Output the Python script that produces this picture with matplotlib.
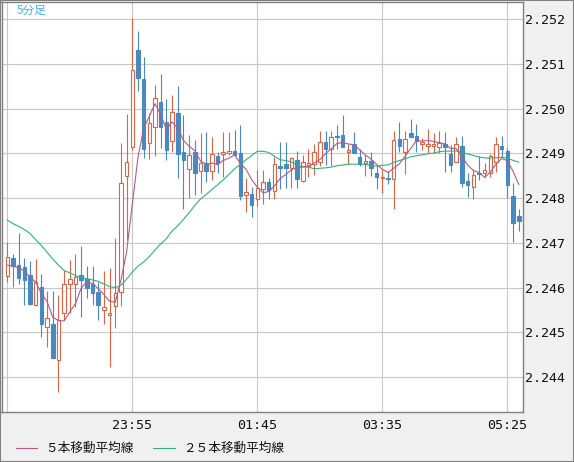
import numpy as np
import pandas as pd
import matplotlib
matplotlib.use('Agg')
import matplotlib.pyplot as plt
from matplotlib.patches import Rectangle
from matplotlib.lines import Line2D

# 5分足 OHLC (22:05 - 05:35)
opens = [
    2.24626, 2.24667, 2.24650, 2.24645, 2.24628, 2.24561, 2.24602, 2.24511, 2.24518, 2.24437,
    2.24542, 2.24609, 2.24609, 2.24628, 2.24619, 2.24608, 2.24589, 2.24549, 2.24538, 2.24558,
    2.24590, 2.24850, 2.24914, 2.25131, 2.25066, 2.24923, 2.24960, 2.25015, 2.24970, 2.24928,
    2.24990, 2.24903, 2.24866, 2.24903, 2.24861, 2.24879, 2.24861, 2.24894, 2.24898, 2.24900,
    2.24905, 2.24900, 2.24807, 2.24809, 2.24797, 2.24820, 2.24835, 2.24817, 2.24873, 2.24876,
    2.24867, 2.24885, 2.24838, 2.24873, 2.24876, 2.24880, 2.24926, 2.24911, 2.24940, 2.24942,
    2.24904, 2.24920, 2.24892, 2.24878, 2.24882, 2.24857, 2.24844, 2.24844, 2.24842, 2.24932,
    2.24904, 2.24946, 2.24940, 2.24922, 2.24917, 2.24916, 2.24914, 2.24922, 2.24899, 2.24881,
    2.24917, 2.24839, 2.24824, 2.24857, 2.24857, 2.24856, 2.24881, 2.24917, 2.24905, 2.24805,
    2.24760]
highs = [
    2.24703, 2.24675, 2.24721, 2.24667, 2.24659, 2.24665, 2.24630, 2.24592, 2.24592, 2.24583,
    2.24639, 2.24662, 2.24674, 2.24693, 2.24649, 2.24649, 2.24613, 2.24637, 2.24644, 2.24710,
    2.24924, 2.24988, 2.25202, 2.25174, 2.25116, 2.24990, 2.25053, 2.25078, 2.25022, 2.25030,
    2.25051, 2.24985, 2.24941, 2.24930, 2.24945, 2.24949, 2.24937, 2.24904, 2.24949, 2.24949,
    2.24952, 2.24964, 2.24844, 2.24826, 2.24863, 2.24863, 2.24844, 2.24891, 2.24926, 2.24926,
    2.24893, 2.24905, 2.24896, 2.24909, 2.24921, 2.24950, 2.24950, 2.24950, 2.24964, 2.24986,
    2.24922, 2.24947, 2.24910, 2.24897, 2.24904, 2.24874, 2.24863, 2.24861, 2.24950, 2.24970,
    2.24951, 2.24976, 2.24965, 2.24934, 2.24955, 2.24945, 2.24951, 2.24947, 2.24919, 2.24937,
    2.24939, 2.24857, 2.24865, 2.24894, 2.24878, 2.24898, 2.24937, 2.24939, 2.24913, 2.24833,
    2.24776]
lows = [
    2.24613, 2.24602, 2.24609, 2.24562, 2.24561, 2.24559, 2.24490, 2.24467, 2.24442, 2.24367,
    2.24527, 2.24542, 2.24556, 2.24535, 2.24577, 2.24561, 2.24527, 2.24518, 2.24423, 2.24509,
    2.24559, 2.24706, 2.24908, 2.25040, 2.24889, 2.24888, 2.24895, 2.24912, 2.24886, 2.24904,
    2.24846, 2.24775, 2.24801, 2.24807, 2.24811, 2.24836, 2.24841, 2.24856, 2.24848, 2.24896,
    2.24894, 2.24796, 2.24770, 2.24758, 2.24782, 2.24787, 2.24798, 2.24798, 2.24820, 2.24822,
    2.24822, 2.24822, 2.24835, 2.24848, 2.24852, 2.24872, 2.24874, 2.24872, 2.24910, 2.24914,
    2.24876, 2.24902, 2.24872, 2.24850, 2.24849, 2.24820, 2.24812, 2.24831, 2.24775, 2.24904,
    2.24854, 2.24936, 2.24904, 2.24908, 2.24900, 2.24902, 2.24900, 2.24859, 2.24859, 2.24881,
    2.24826, 2.24803, 2.24797, 2.24841, 2.24848, 2.24847, 2.24859, 2.24891, 2.24800, 2.24703,
    2.24727]
closes = [
    2.24668, 2.24648, 2.24621, 2.24618, 2.24563, 2.24612, 2.24519, 2.24531, 2.24443, 2.24527,
    2.24607, 2.24619, 2.24624, 2.24618, 2.24598, 2.24587, 2.24562, 2.24556, 2.24544, 2.24587,
    2.24834, 2.24881, 2.25087, 2.25069, 2.24911, 2.24967, 2.25023, 2.24960, 2.24908, 2.24993,
    2.24899, 2.24885, 2.24896, 2.24857, 2.24879, 2.24861, 2.24899, 2.24879, 2.24903, 2.24905,
    2.24897, 2.24805, 2.24814, 2.24785, 2.24822, 2.24835, 2.24818, 2.24876, 2.24868, 2.24867,
    2.24889, 2.24843, 2.24881, 2.24878, 2.24903, 2.24925, 2.24910, 2.24936, 2.24937, 2.24915,
    2.24908, 2.24902, 2.24877, 2.24882, 2.24868, 2.24848, 2.24847, 2.24842, 2.24930, 2.24917,
    2.24932, 2.24936, 2.24928, 2.24926, 2.24922, 2.24922, 2.24923, 2.24914, 2.24875, 2.24920,
    2.24834, 2.24829, 2.24851, 2.24853, 2.24864, 2.24894, 2.24921, 2.24911, 2.24829, 2.24744,
    2.24749]

# 移動平均線の先頭 (表示範囲より前の足が必要な部分、チャートから読み取り)
ma5_head = [2.24650, 2.24648, 2.24644, 2.24637]
ma25_head = [2.24751, 2.24743, 2.24737, 2.24730, 2.24721, 2.24707, 2.24694, 2.24679,
             2.24664, 2.24650, 2.24638, 2.24633, 2.24627, 2.24622, 2.24620, 2.24617,
             2.24614, 2.24608, 2.24602, 2.24600, 2.24605, 2.24619, 2.24635, 2.24648]

price_ticks = [2.244, 2.245, 2.246, 2.247, 2.248, 2.249, 2.250, 2.251, 2.252]
tick_pos = [0, 22, 44, 66, 88]
legend_labels = ['５本移動平均線', '２５本移動平均線']

RED = '#dc6446'
BLUE = '#4a88c0'
PURPLE = '#b45a8c'
GREEN = '#2db47a'

df = pd.DataFrame({'open': opens, 'high': highs, 'low': lows, 'close': closes},
                  index=pd.date_range('2024-01-01 22:05', periods=len(closes), freq='5min'))
ma5 = df['close'].rolling(5).mean()
ma5.iloc[:len(ma5_head)] = ma5_head
ma25 = df['close'].rolling(25).mean()
ma25.iloc[:len(ma25_head)] = ma25_head

W, H = 574, 462
fig = plt.figure(figsize=(W / 100, H / 100), dpi=100, facecolor='#f0f0f0')
ax = fig.add_axes([1.5 / W, 50 / H, 521.8 / W, 410.5 / H])
ax.set_facecolor('white')

x = np.arange(len(df))
up = df['close'].values >= df['open'].values
wick_cols = [RED if u else BLUE for u in up]
ax.vlines(x, df['low'], df['high'], colors=wick_cols, linewidth=0.8, zorder=2)

bw = 0.62
for i, (o, c, u) in enumerate(zip(df['open'], df['close'], up)):
    ax.add_patch(Rectangle((i - bw / 2, min(o, c)), bw, abs(c - o),
                           facecolor='white' if u else BLUE,
                           edgecolor=RED if u else BLUE, linewidth=0.8, zorder=3))

ax.plot(x, ma25.values, color=GREEN, linewidth=0.8, zorder=4)
ax.plot(x, ma5.values, color=PURPLE, linewidth=0.8, zorder=4)

ax.set_xlim(-1.02, 90.8)
ax.set_ylim(2.243217, 2.252398)
ax.set_xticks(tick_pos)
ax.set_xticklabels(['' if k == 0 else df.index[k].strftime('%H:%M') for k in tick_pos])
ax.set_yticks(price_ticks)
ax.set_yticklabels([f'{p:.3f}' for p in price_ticks])
ax.yaxis.tick_right()
ax.grid(color='#c8c8c8', linewidth=0.8)
ax.set_axisbelow(True)
ax.tick_params(axis='both', length=0, labelsize=9.6, labelcolor='#111111')
ax.tick_params(axis='y', pad=1.4)
ax.tick_params(axis='x', pad=5.2)
for lab in ax.get_xticklabels() + ax.get_yticklabels():
    lab.set_family('DejaVu Sans Mono')
for s in ax.spines.values():
    s.set_color('#808080')
    s.set_linewidth(1.0)

ax.text(15 / 521.8, 1 - 9 / 410.5, '5分足', transform=ax.transAxes, va='center',
        ha='left', color='#3cb4ee', fontsize=8.4, family=['Noto Sans CJK JP', 'DejaVu Sans'])

# 凡例
ly = (H - 448) / H
for (x0, x1, tx), col, lab in zip([(16, 37, 45), (153, 175, 183)], [PURPLE, GREEN], legend_labels):
    fig.add_artist(Line2D([x0 / W, x1 / W], [ly, ly], transform=fig.transFigure,
                          color=col, linewidth=0.8))
    fig.text(tx / W, ly, lab, va='center', ha='left', fontsize=9.1, color='#111111',
             family=['Noto Sans CJK JP', 'DejaVu Sans'])

fig.add_artist(Rectangle((0, 0), 1, 1, transform=fig.transFigure, fill=False,
                         edgecolor='#808080', linewidth=1.5))

fig.savefig('out.png', dpi=100, facecolor=fig.get_facecolor())
